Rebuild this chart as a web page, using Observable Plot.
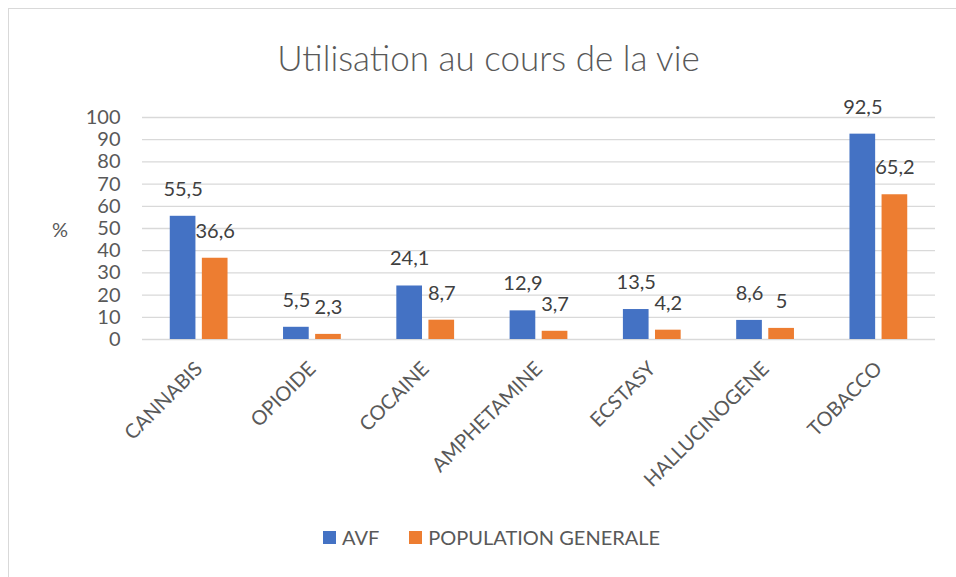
<!DOCTYPE html>
<html><head><meta charset="utf-8">
<script src="https://cdn.jsdelivr.net/npm/d3@7"></script>
<script src="https://cdn.jsdelivr.net/npm/@observablehq/plot@0.6"></script>
<style>
body{margin:0;background:#fff;font-family:Lato,"Open Sans",sans-serif;width:956px;height:577px;overflow:hidden;position:relative}
#frame{position:absolute;left:8px;top:8px;width:960px;height:580px;border-top:1px solid #d9d9d9;border-left:1px solid #d9d9d9;box-sizing:border-box}
#title{position:absolute;left:0;width:977px;top:35px;text-align:center;font-size:35px;font-weight:300;color:#595959;line-height:44px}
#chart{position:absolute;left:0;top:0}
#ylab{position:absolute;left:52px;top:216px;font-size:20px;color:#595959;line-height:26px}
#legend{position:absolute;left:323px;top:524px;font-size:20px;color:#595959;line-height:26px;display:flex;align-items:center;white-space:nowrap}
.sw{display:inline-block;width:13px;height:13px;margin-right:6px}
.item{display:flex;align-items:center;margin-right:30px}
</style></head>
<body>
<div id="frame"></div>
<div id="title">Utilisation au cours de la vie</div>
<div id="chart"></div>
<div id="ylab">%</div>
<div id="legend"></div>
<script>
const categories = ["CANNABIS","OPIOIDE","COCAINE","AMPHETAMINE","ECSTASY","HALLUCINOGENE","TOBACCO"];
const avf = [55.5,5.5,24.1,12.9,13.5,8.6,92.5];
const pop = [36.6,2.3,8.7,3.7,4.2,5,65.2];
const series = ["AVF","POPULATION GENERALE"];
const colors = ["#4472C4","#ED7D31"];
const yTicks = [0,10,20,30,40,50,60,70,80,90,100];

const rowsA = categories.map((c,i)=>({cat:c, series:series[0], value:avf[i]}));
const rowsP = categories.map((c,i)=>({cat:c, series:series[1], value:pop[i]}));
const fmt = v => String(v).replace(".", ",");

const band = (956-142-21)/7*(1-0.49); // group width
const barW = band/1.8*0.8;
const inset = band - barW;
const off = band/2 - barW/2;

const chart = Plot.plot({
  width:956, height:500,
  marginLeft:142, marginRight:21, marginTop:117, marginBottom:161,
  style:{fontFamily:"Lato, 'Open Sans', sans-serif", fontSize:"20px", color:"#595959", background:"transparent"},
  x:{domain:categories, paddingInner:0.49, paddingOuter:0.245, round:false, label:null},
  y:{domain:[0,100], label:null},
  marks:[
    Plot.ruleY(yTicks,{stroke:"#d9d9d9", strokeWidth:1.3}),
    Plot.barY(rowsA,{x:"cat", y:"value", fill:colors[0], insetRight:inset}),
    Plot.barY(rowsP,{x:"cat", y:"value", fill:colors[1], insetLeft:inset}),
    Plot.text(rowsA,{x:"cat", y:"value", text:d=>fmt(d.value), dx:-off, dy:-27, lineAnchor:"middle", fill:"#404040", fontSize:20}),
    Plot.text(rowsP,{x:"cat", y:"value", text:d=>fmt(d.value), dx:off, dy:-27, lineAnchor:"middle", fill:"#404040", fontSize:20}),
    Plot.axisY({ticks:yTicks, tickSize:0, tickPadding:22, label:null, fontSize:20, fill:"#595959"}),
    Plot.axisX({tickRotate:-45, tickSize:0, tickPadding:26, label:null, fontSize:20, fill:"#595959"})
  ]
});
document.getElementById("chart").appendChild(chart);

const leg = document.getElementById("legend");
series.forEach((s,i)=>{
  const it = document.createElement("div"); it.className="item";
  const sw = document.createElement("span"); sw.className="sw"; sw.style.background=colors[i];
  it.appendChild(sw); it.appendChild(document.createTextNode(s));
  leg.appendChild(it);
});
</script>
</body></html>
